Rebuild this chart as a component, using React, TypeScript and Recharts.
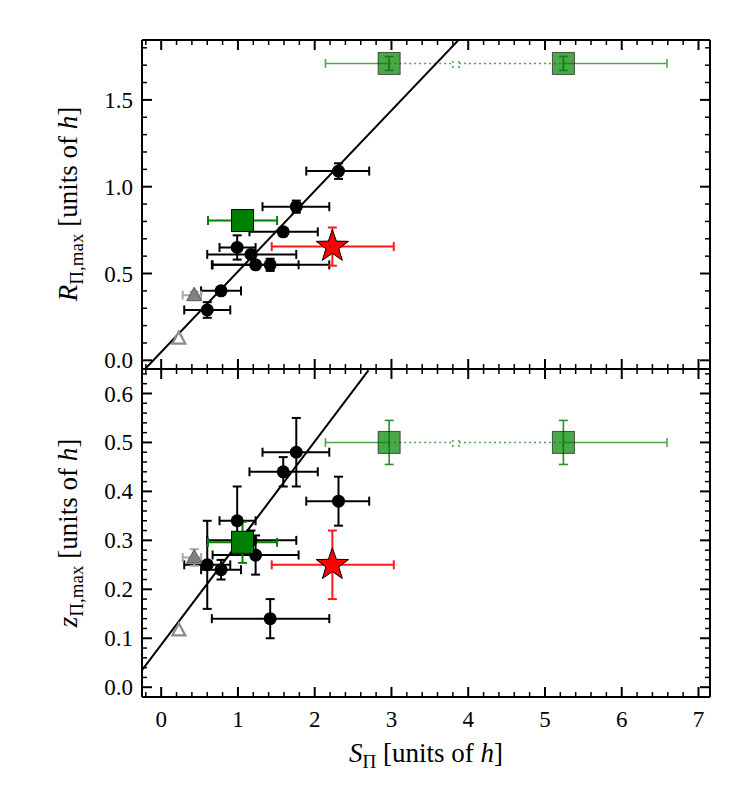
import React from 'react';
import { ComposedChart, Scatter, XAxis, YAxis, ErrorBar } from 'recharts';

const FONT = '"Liberation Serif", "DejaVu Serif", serif';

// shared x axis: S_Pi
const X_DOMAIN = [-0.25, 7.15];
const X_MAJOR = [0, 1, 2, 3, 4, 5, 6, 7];
const X_MINOR_STEP = 0.2;

// top panel: R_Pi,max
const R_DOMAIN = [-0.05, 1.845];
const R_MAJOR = [0, 0.5, 1.0, 1.5];
const R_MINOR_STEP = 0.1;

// bottom panel: z_Pi,max
const Z_DOMAIN = [-0.02, 0.65];
const Z_MAJOR = [0, 0.1, 0.2, 0.3, 0.4, 0.5, 0.6];
const Z_MINOR_STEP = 0.02;

// black circles
const S_VAL = [2.31, 1.76, 1.59, 0.99, 1.17, 1.23, 1.42, 0.78, 0.6];
const S_LO = [1.89, 1.32, 1.15, 0.76, 0.6, 0.67, 0.66, 0.52, 0.3];
const S_HI = [2.71, 2.19, 2.04, 1.23, 1.76, 1.79, 2.19, 1.04, 0.9];
const R_VAL = [1.09, 0.885, 0.74, 0.65, 0.61, 0.55, 0.55, 0.4, 0.29];
const R_ERR = [0.045, 0.035, 0.02, 0.07, 0.02, 0.02, 0.035, 0.015, 0.045];
const Z_VAL = [0.38, 0.48, 0.44, 0.34, 0.3, 0.27, 0.14, 0.24, 0.25];
const Z_ERR = [0.05, 0.07, 0.03, 0.07, 0.02, 0.04, 0.04, 0.02, 0.09];

// grey filled triangle
const TRI_S = [0.43];
const TRI_S_LO = [0.28];
const TRI_S_HI = [0.52];
const TRI_R = [0.375];
const TRI_R_ERR = [0.02];
const TRI_Z = [0.265];
const TRI_Z_ERR = [0.017];

// open triangle
const OTRI_S = [0.23];
const OTRI_R = [0.125];
const OTRI_Z = [0.116];

// dark green square
const GSQ_S = [1.06];
const GSQ_S_LO = [0.61];
const GSQ_S_HI = [1.51];
const GSQ_R = [0.805];
const GSQ_R_ERR = [0];
const GSQ_Z = [0.296];
const GSQ_Z_ERR = [0.042];

// red star
const STAR_S = [2.23];
const STAR_S_LO = [1.44];
const STAR_S_HI = [3.03];
const STAR_R = [0.655];
const STAR_R_ERR = [0.11];
const STAR_Z = [0.25];
const STAR_Z_ERR = [0.07];

// light green squares (one side solid, one side dotted)
const LSQ_S = [2.97, 5.24];
const LSQ_SOLID_END = [2.14, 6.59];
const LSQ_DOT_END = [3.8, 3.88];
const LSQ_R = [1.71, 1.71];
const LSQ_R_ERR = [0.04, 0.04];
const LSQ_Z = [0.5, 0.5];
const LSQ_Z_ERR = [0.045, 0.045];

// fitted lines
const FIT_R_S = [-0.21, 3.87];
const FIT_R = [-0.05, 1.843];
const FIT_Z_S = [-0.25, 2.7];
const FIT_Z = [0.035, 0.647];

function ticksFor(domain: number[], step: number) {
  const out: number[] = [];
  const n0 = Math.ceil(domain[0] / step - 1e-9);
  const n1 = Math.floor(domain[1] / step + 1e-9);
  for (let i = n0; i <= n1; i++) out.push(+(i * step).toFixed(4));
  return out;
}
const isMajor = (v: number, majors: number[]) => majors.some((m) => Math.abs(m - v) < 1e-6);

function withErr(xs: number[], lo: number[], hi: number[], ys: number[], ye: number[]) {
  return xs.map((x, i) => ({ x, y: ys[i], ex: [x - lo[i], hi[i] - x], ey: ye[i] }));
}
function lightSquares(ys: number[], ye: number[]) {
  return LSQ_S.map((x, i) => {
    const solid = LSQ_SOLID_END[i];
    const dot = LSQ_DOT_END[i];
    return {
      x,
      y: ys[i],
      ey: ye[i],
      exSolid: solid < x ? [x - solid, 0] : [0, solid - x],
      exDot: dot < x ? [x - dot, 0] : [0, dot - x],
    };
  });
}
const fitLine = (xs: number[], ys: number[]) => xs.map((x, i) => ({ x, y: ys[i] }));

const Circle = (p: any) => <circle cx={p.cx} cy={p.cy} r={6.5} fill="#000" />;
const Square = (p: any) => (
  <rect x={p.cx - 11} y={p.cy - 11} width={22} height={22} fill="#008000" stroke="#000" strokeWidth={1} />
);
const LightSquare = (p: any) => (
  <rect x={p.cx - 11} y={p.cy - 11} width={22} height={22} fill="#008000" fillOpacity={0.7}
    stroke="#000" strokeOpacity={0.6} strokeWidth={1} />
);
const Triangle = (p: any) => (
  <polygon points={`${p.cx},${p.cy - 8} ${p.cx + 7.5},${p.cy + 5.5} ${p.cx - 7.5},${p.cy + 5.5}`}
    fill="#808080" stroke="#5a5a5a" strokeWidth={1} />
);
const OpenTriangle = (p: any) => (
  <polygon points={`${p.cx},${p.cy - 7} ${p.cx + 6.5},${p.cy + 5} ${p.cx - 6.5},${p.cy + 5}`}
    fill="#fff" stroke="#8c8c8c" strokeWidth={2.2} />
);
const Star = (p: any) => {
  const pts: string[] = [];
  for (let k = 0; k < 10; k++) {
    const r = k % 2 === 0 ? 17 : 6.8;
    const a = -Math.PI / 2 + (k * Math.PI) / 5;
    pts.push(`${p.cx + r * Math.cos(a)},${p.cy + r * Math.sin(a)}`);
  }
  return <polygon points={pts.join(' ')} fill="#ff0000" stroke="#000" strokeWidth={1} />;
};
const Nothing = () => <g />;

function makeTick(side: 'top' | 'bottom' | 'left' | 'right', majors: number[], labels: boolean, fmt: (v: number) => string) {
  return (p: any) => {
    const v = p.payload.value;
    const major = isMajor(v, majors);
    const len = major ? 10 : 5;
    const { x, y } = p;
    let line;
    if (side === 'bottom') line = <line x1={x} y1={y} x2={x} y2={y - len} />;
    else if (side === 'top') line = <line x1={x} y1={y} x2={x} y2={y + len} />;
    else if (side === 'left') line = <line x1={x} y1={y} x2={x + len} y2={y} />;
    else line = <line x1={x} y1={y} x2={x - len} y2={y} />;
    return (
      <g stroke="#000" strokeWidth={major ? 2 : 1.5}>
        {line}
        {labels && major && side === 'bottom' && (
          <text x={x} y={y + 30} textAnchor="middle" fontSize={23} fontFamily={FONT} fill="#000" stroke="none">
            {fmt(v)}
          </text>
        )}
        {labels && major && side === 'left' && (
          <text x={x - 9} y={y} dy="0.35em" textAnchor="end" fontSize={23} fontFamily={FONT} fill="#000" stroke="none">
            {fmt(v)}
          </text>
        )}
      </g>
    );
  };
}

interface PanelProps {
  top: number;
  height: number;
  margin: { top: number; right: number; bottom: number; left: number };
  yDomain: number[];
  yMajor: number[];
  yStep: number;
  xLabels: boolean;
  circles: any[];
  tri: any[];
  otri: any[];
  gsq: any[];
  star: any[];
  lsq: any[];
  fit: any[];
}

function Panel(props: PanelProps) {
  const xTicks = ticksFor(X_DOMAIN, X_MINOR_STEP);
  const yTicks = ticksFor(props.yDomain, props.yStep);
  const ax = { stroke: '#000', strokeWidth: 2 };
  const common = { xAxisId: 'b', yAxisId: 'l', isAnimationActive: false };
  return (
    <div style={{ position: 'absolute', left: 0, top: props.top }}>
      <ComposedChart width={747} height={props.height} margin={props.margin}>
        <XAxis xAxisId="b" dataKey="x" type="number" domain={X_DOMAIN} allowDataOverflow ticks={xTicks}
          interval={0} height={1} tickSize={0} tickMargin={0} tickLine={false} axisLine={ax}
          tick={makeTick('bottom', X_MAJOR, props.xLabels, (v) => String(v))} />
        <XAxis xAxisId="t" orientation="top" dataKey="x" type="number" domain={X_DOMAIN} allowDataOverflow
          ticks={xTicks} interval={0} height={1} tickSize={0} tickMargin={0} tickLine={false} axisLine={ax}
          tick={makeTick('top', X_MAJOR, false, (v) => String(v))} />
        <YAxis yAxisId="l" dataKey="y" type="number" domain={props.yDomain} allowDataOverflow ticks={yTicks}
          interval={0} width={142} tickSize={0} tickMargin={0} tickLine={false} axisLine={ax}
          tick={makeTick('left', props.yMajor, true, (v) => v.toFixed(1))} />
        <YAxis yAxisId="r" orientation="right" dataKey="y" type="number" domain={props.yDomain} allowDataOverflow
          ticks={yTicks} interval={0} width={1} tickSize={0} tickMargin={0} tickLine={false} axisLine={ax}
          tick={makeTick('right', props.yMajor, false, (v) => v.toFixed(1))} />

        <Scatter {...common} data={props.fit} shape={Nothing} line={{ stroke: '#000', strokeWidth: 2 }} />

        <Scatter {...common} data={props.circles} shape={Circle}>
          <ErrorBar dataKey="ex" direction="x" width={4.5} stroke="#000" strokeWidth={2} isAnimationActive={false} />
          <ErrorBar dataKey="ey" direction="y" width={4.5} stroke="#000" strokeWidth={2} isAnimationActive={false} />
        </Scatter>

        <Scatter {...common} data={props.tri} shape={Triangle}>
          <ErrorBar dataKey="ex" direction="x" width={4.5} stroke="#a8a8a8" strokeWidth={2} isAnimationActive={false} />
          <ErrorBar dataKey="ey" direction="y" width={4.5} stroke="#a8a8a8" strokeWidth={2} isAnimationActive={false} />
        </Scatter>

        <Scatter {...common} data={props.otri} shape={OpenTriangle} />

        <Scatter {...common} data={props.gsq} shape={Square}>
          <ErrorBar dataKey="ex" direction="x" width={4.5} stroke="#008000" strokeWidth={2} isAnimationActive={false} />
          <ErrorBar dataKey="ey" direction="y" width={4.5} stroke="#008000" strokeWidth={2} isAnimationActive={false} />
        </Scatter>

        <Scatter {...common} data={props.lsq} shape={LightSquare}>
          <ErrorBar dataKey="exSolid" direction="x" width={4.5} stroke="#4da64d" strokeWidth={1.6} isAnimationActive={false} />
          <ErrorBar dataKey="exDot" direction="x" width={4.5} stroke="#4da64d" strokeWidth={1.6}
            strokeDasharray="2 3" isAnimationActive={false} />
          <ErrorBar dataKey="ey" direction="y" width={4.5} stroke="#2e8b2e" strokeWidth={1.6} isAnimationActive={false} />
        </Scatter>

        <Scatter {...common} data={props.star} shape={Star}>
          <ErrorBar dataKey="ex" direction="x" width={4.5} stroke="#ff1a1a" strokeWidth={2} isAnimationActive={false} />
          <ErrorBar dataKey="ey" direction="y" width={4.5} stroke="#ff1a1a" strokeWidth={2} isAnimationActive={false} />
        </Scatter>
      </ComposedChart>
    </div>
  );
}

function YTitle({ cy, sym }: { cy: number; sym: string }) {
  return (
    <text x={77} y={cy} transform={`rotate(-90, 77, ${cy})`} textAnchor="middle" fontSize={27} fontFamily={FONT} fill="#000">
      <tspan fontStyle="italic">{sym}</tspan>
      <tspan fontSize={19} dy={6}>Π,max</tspan>
      <tspan dy={-6}> [units of </tspan>
      <tspan fontStyle="italic">h</tspan>
      <tspan>]</tspan>
    </text>
  );
}

export default function App() {
  const topCircles = withErr(S_VAL, S_LO, S_HI, R_VAL, R_ERR);
  const botCircles = withErr(S_VAL, S_LO, S_HI, Z_VAL, Z_ERR);
  return (
    <div style={{ position: 'absolute', left: 0, top: 0, width: 747, height: 802, background: '#fff' }}>
      <Panel
        top={0}
        height={380}
        margin={{ top: 39, right: 36, bottom: 10, left: 0 }}
        yDomain={R_DOMAIN}
        yMajor={R_MAJOR}
        yStep={R_MINOR_STEP}
        xLabels={false}
        circles={topCircles}
        tri={withErr(TRI_S, TRI_S_LO, TRI_S_HI, TRI_R, TRI_R_ERR)}
        otri={fitLine(OTRI_S, OTRI_R)}
        gsq={withErr(GSQ_S, GSQ_S_LO, GSQ_S_HI, GSQ_R, GSQ_R_ERR)}
        star={withErr(STAR_S, STAR_S_LO, STAR_S_HI, STAR_R, STAR_R_ERR)}
        lsq={lightSquares(LSQ_R, LSQ_R_ERR)}
        fit={fitLine(FIT_R_S, FIT_R)}
      />
      <Panel
        top={0}
        height={802}
        margin={{ top: 368, right: 36, bottom: 104, left: 0 }}
        yDomain={Z_DOMAIN}
        yMajor={Z_MAJOR}
        yStep={Z_MINOR_STEP}
        xLabels={true}
        circles={botCircles}
        tri={withErr(TRI_S, TRI_S_LO, TRI_S_HI, TRI_Z, TRI_Z_ERR)}
        otri={fitLine(OTRI_S, OTRI_Z)}
        gsq={withErr(GSQ_S, GSQ_S_LO, GSQ_S_HI, GSQ_Z, GSQ_Z_ERR)}
        star={withErr(STAR_S, STAR_S_LO, STAR_S_HI, STAR_Z, STAR_Z_ERR)}
        lsq={lightSquares(LSQ_Z, LSQ_Z_ERR)}
        fit={fitLine(FIT_Z_S, FIT_Z)}
      />
      <svg width={747} height={802} style={{ position: 'absolute', left: 0, top: 0, pointerEvents: 'none' }}>
        <YTitle cy={204} sym="R" />
        <YTitle cy={533} sym="z" />
        <text x={426} y={762} textAnchor="middle" fontSize={27} fontFamily={FONT} fill="#000">
          <tspan fontStyle="italic">S</tspan>
          <tspan fontSize={19} dy={6}>Π</tspan>
          <tspan dy={-6}> [units of </tspan>
          <tspan fontStyle="italic">h</tspan>
          <tspan>]</tspan>
        </text>
      </svg>
    </div>
  );
}
